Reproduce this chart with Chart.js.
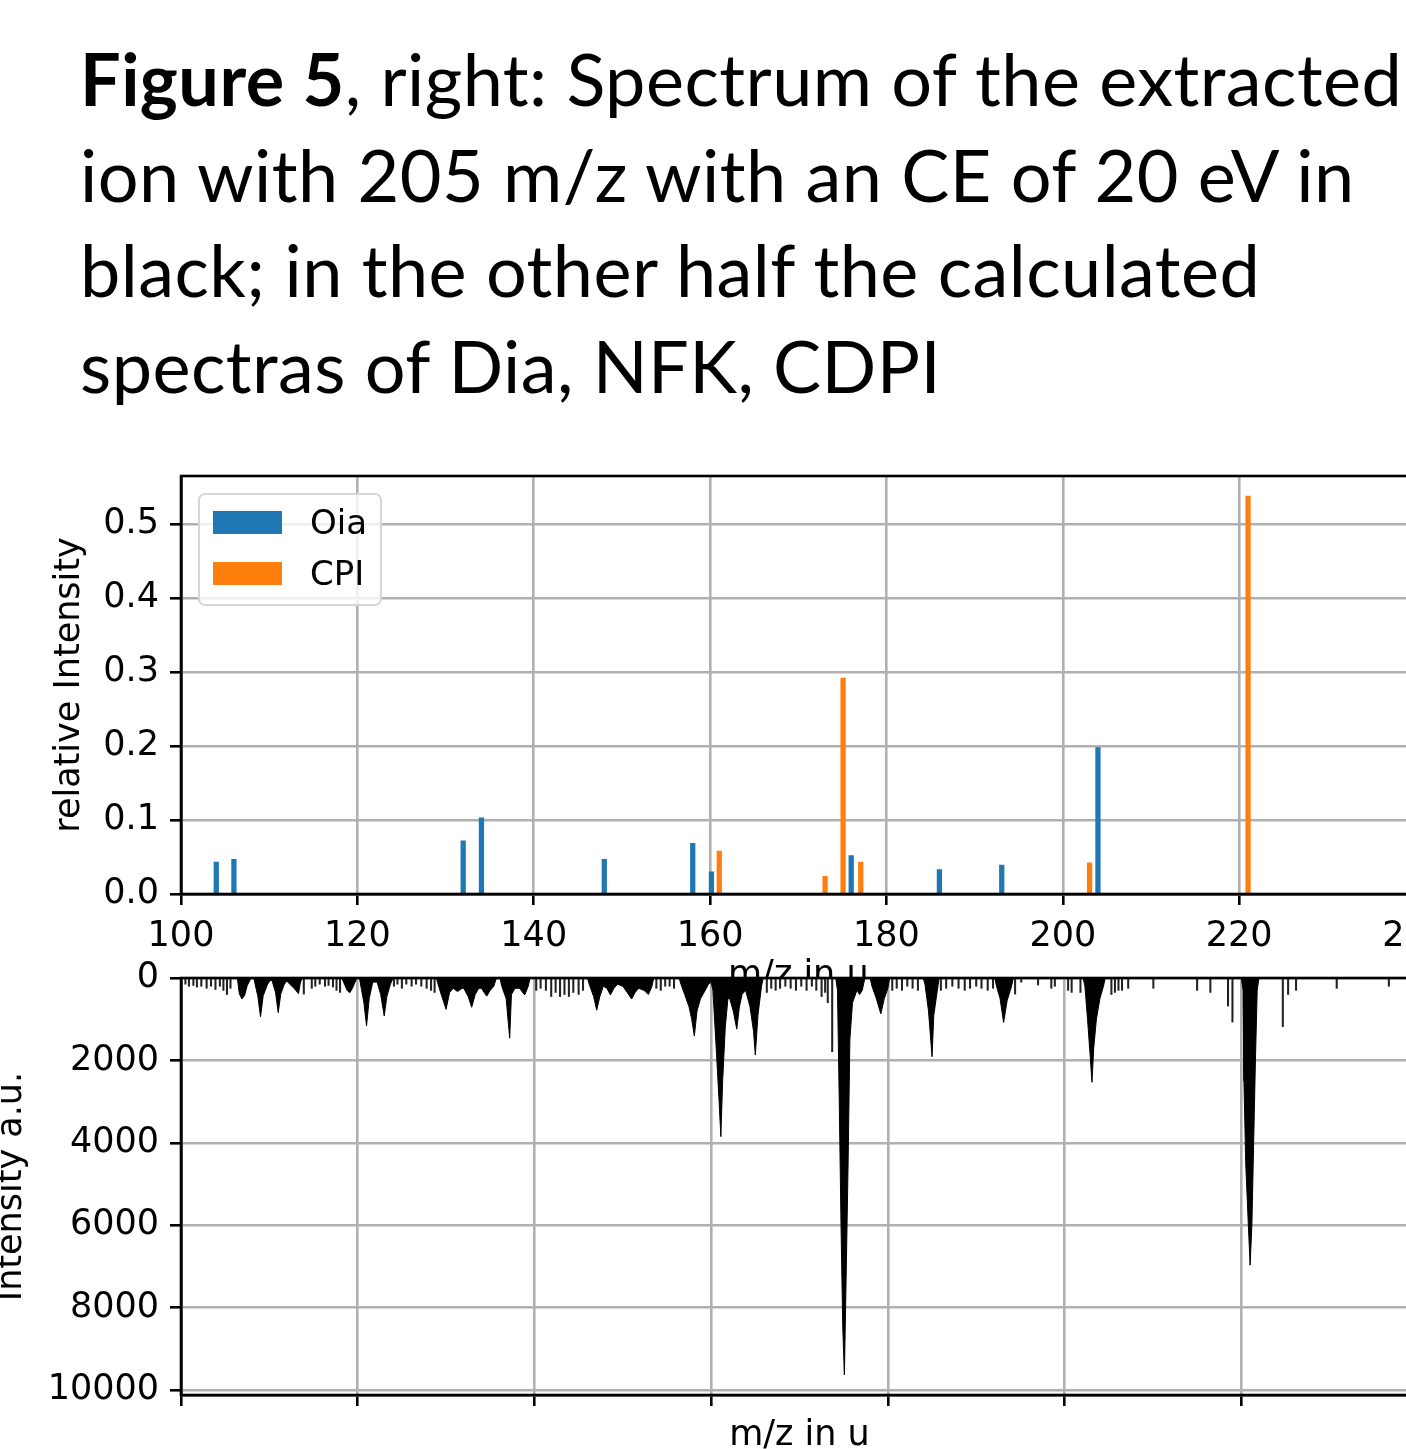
<!DOCTYPE html>
<html>
<head>
<meta charset="utf-8">
<script src="https://cdn.jsdelivr.net/npm/chart.js@4.4.1/dist/chart.umd.min.js"></script>
<style>
  html, body { margin: 0; padding: 0; width: 1406px; height: 1449px; overflow: hidden; background: #fff; }
  .caption { position: absolute; left: 80px; top: 31px; width: 1500px; font-family: Lato, "Open Sans", sans-serif;
             font-size: 72px; letter-spacing: 0.45px; line-height: 95.5px; color: #000; white-space: nowrap; }
  .caption b { font-weight: 700; }
  canvas { position: absolute; }
  #legend { position: absolute; left: 198px; top: 493px; width: 180px; height: 109px; border: 2px solid #d6d6d6;
            border-radius: 7px; background: rgba(255,255,255,0.8); font-family: "DejaVu Sans", sans-serif; font-size: 34px; z-index: 5; }
  #legend .item { position: absolute; left: 13px; height: 30px; }
  #legend .sw { position: absolute; left: 0; top: 4px; width: 69px; height: 23px; }
  #legend .lb { position: absolute; left: 97px; top: -5px; line-height: 40px; }
</style>
</head>
<body>
<div class="caption">
  <div><b>Figure 5</b>, right: Spectrum of the extracted</div>
  <div>ion with 205 m/z with an CE of 20 eV in</div>
  <div>black; in the other half the calculated</div>
  <div>spectras of Dia, NFK, CDPI</div>
</div>
<canvas id="top" width="1480" height="560" style="left:-20px; top:440px; width:1480px; height:560px;"></canvas>
<canvas id="bottom" width="1480" height="540" style="left:-20px; top:940px; width:1480px; height:540px;"></canvas>
<div id="legend"></div>
<script>
// calculated spectra (upper panel)
const oiaMz = [104, 106, 132, 134.07, 148, 158.03, 160.15, 176, 186, 193.07, 203.98];
const oiaIntensity = [0.043, 0.047, 0.072, 0.103, 0.047, 0.0685, 0.030, 0.052, 0.033, 0.039, 0.198];
const cpiMz = [161.04, 173.04, 175.08, 177.08, 203.03, 221.0];
const cpiIntensity = [0.058, 0.024, 0.292, 0.043, 0.042, 0.538];

// measured spectrum, 205 m/z, CE 20 eV (lower panel): peak profile
const profileMz = [
  100.0, 106.3, 106.4, 106.6, 106.9, 107.2, 107.5, 107.8, 108.0,
  108.2, 108.3, 108.7, 109.0, 109.3, 109.8, 110.1,
  110.3, 110.7, 111.0, 111.3, 111.7, 112.0,
  112.3, 112.8, 113.3, 113.5, 113.7,
  118.2, 118.5, 118.8, 119.1, 119.4, 119.7, 119.9,
  120.2, 120.4, 120.7, 121.0, 121.3, 121.7,
  122.2, 122.6, 123.0, 123.3, 123.7, 124.0,
  128.9, 129.3, 130.0, 130.4, 130.8, 131.3, 131.8, 132.0, 132.5, 132.9, 133.3, 133.7, 134.0, 134.6, 135.0, 135.4, 135.7,
  136.1, 136.3, 136.8, 137.2, 137.4, 137.8, 138.3, 138.9, 139.3, 139.5,
  146.0, 146.2, 146.7, 147.05, 147.4, 147.8, 148.2, 148.6, 149.0, 149.4, 150.0, 150.5, 151.0, 151.4, 151.8, 152.4, 152.9, 153.3, 153.5,
  156.4, 156.5, 157.0, 157.5, 157.8, 158.1, 158.4, 158.8, 159.2, 159.7, 160.0,
  160.2, 160.6, 160.9, 161.1, 161.3, 161.6, 161.9, 162.1, 162.5, 162.9, 163.2, 163.5, 163.9, 164.4, 164.8, 165.0, 165.3, 165.7, 165.9,
  174.1, 174.3, 174.5, 174.7, 174.9, 175.08, 175.3, 175.5, 175.7, 176.0, 176.5, 176.8, 177.1, 177.4,
  178.0, 178.2, 178.7, 179.2, 179.6, 180.0, 180.2,
  184.0, 184.2, 184.6, 185.0, 185.2, 185.6, 185.8,
  192.1, 192.3, 192.7, 193.1, 193.5, 194.0, 194.2,
  202.1, 202.3, 202.6, 202.9, 203.1, 203.3, 203.6, 204.0, 204.4, 204.6,
  220.0, 220.2, 220.3, 220.5, 220.8, 221.0, 221.2, 221.4, 221.6, 221.8, 222.0,
  240.0
];
const profileIntensity = [
  0, 0, 40, 380, 510, 420, 180, 60, 0,
  0, 60, 450, 940, 430, 150, 60,
  60, 350, 840, 380, 150, 70,
  150, 250, 380, 120, 0,
  0, 150, 300, 360, 250, 100, 0,
  0, 250, 600, 1160, 500, 100,
  100, 400, 920, 450, 150, 0,
  0, 300, 760, 350, 250, 330, 250, 250, 450, 710, 400, 250, 250, 440, 300, 200, 0,
  0, 200, 500, 1460, 400, 250, 250, 410, 200, 0,
  0, 150, 450, 780, 450, 200, 250, 410, 250, 150, 200, 350, 510, 350, 250, 300, 400, 200, 0,
  0, 100, 400, 700, 1000, 1410, 800, 500, 350, 150, 100,
  300, 1800, 3000, 3850, 2500, 1200, 500, 500, 800, 1240, 700, 400, 300, 700, 1300, 1870, 900, 200, 0,
  0, 300, 3000, 6000, 8500, 9635, 7000, 4500, 1500, 600, 300, 400, 300, 0,
  0, 200, 500, 870, 500, 250, 0,
  0, 150, 800, 1910, 900, 300, 0,
  0, 200, 500, 1080, 550, 200, 0,
  0, 200, 1000, 1900, 2530, 1700, 1000, 500, 200, 0,
  0, 300, 2500, 4500, 6000, 6970, 6000, 4000, 2000, 300, 0,
  0
];
// measured spectrum: isolated narrow lines
const spikeMz = [
  100.5, 100.9, 101.4, 101.8, 102.3, 102.9, 103.4, 103.9, 104.4, 104.8, 105.2, 105.6, 113.9,
  114.8, 115.2, 115.7, 116.3, 116.7, 117.2, 117.6, 118.0,
  124.1, 124.5, 125.0, 125.5, 126.1, 126.6, 127.2, 127.8, 128.3, 128.7,
  140.2, 140.7, 141.3, 141.9, 142.4, 142.9, 143.4, 143.9, 144.4, 145.0, 145.5,
  153.8, 154.3, 154.8, 155.3, 155.8,
  166.3, 166.8, 167.3, 167.8, 168.4, 169.0, 169.6, 170.2, 170.8, 171.4, 171.9, 172.5, 172.9, 173.2, 173.7,
  180.5, 181.0, 181.6, 182.2, 182.8, 183.4,
  186.0, 186.6, 187.3, 188.0, 188.7, 189.3, 190.0, 190.6, 191.3, 191.9,
  194.4, 195.1, 197.0, 198.5, 198.9, 200.4, 200.8, 201.8,
  205.3, 205.7, 206.1, 206.5, 207.2, 210.05, 215.0, 216.5, 218.5, 219.0,
  224.7, 225.3, 226.2, 230.8, 236.7
];
const spikeIntensity = [
  150, 200, 180, 220, 200, 250, 200, 280, 200, 300, 400, 250, 390,
  250, 200, 150, 200, 180, 220, 300, 350,
  200, 150, 250, 150, 200, 150, 200, 250, 300, 350,
  300, 250, 300, 450, 350, 450, 400, 450, 350, 400, 300,
  250, 300, 200, 200, 250,
  350, 250, 300, 250, 200, 250, 300, 200, 300, 200, 300, 450, 350, 600, 1790,
  300, 250, 300, 200, 250, 300,
  300, 250, 200, 250, 300, 250, 200, 250, 300, 250,
  390, 100, 170, 250, 200, 300, 350, 350,
  400, 350, 300, 300, 250, 250, 300, 350, 680, 1070,
  1180, 400, 300, 250, 200
];

const xTicks = [100, 120, 140, 160, 180, 200, 220, 240];
const upperYTicks = [0, 0.1, 0.2, 0.3, 0.4, 0.5];
const lowerYTicks = [0, 2000, 4000, 6000, 8000, 10000];

const tickFont = { family: "DejaVu Sans", size: 35 };
const gridStyle = { color: "#b0b0b0", lineWidth: 2.6, tickColor: "#000", tickLength: 11, tickWidth: 2.6, offset: false };
const borderStyle = { color: "#000", width: 2.6 };

const frame = {
  id: "frame",
  beforeDraw(chart, args, opts) {
    if (!opts.fill) return;
    const a = chart.chartArea, ctx = chart.ctx;
    ctx.save();
    ctx.fillStyle = "#fff";
    ctx.fillRect(a.left, a.top, a.right - a.left, a.bottom - a.top);
    ctx.restore();
  },
  afterDraw(chart) {
    const a = chart.chartArea, ctx = chart.ctx;
    ctx.save();
    ctx.strokeStyle = "#000";
    ctx.lineWidth = 2.6;
    ctx.strokeRect(a.left, a.top, a.right - a.left, a.bottom - a.top);
    ctx.restore();
  }
};

function pairs(xs, ys) { return xs.map((x, i) => ({ x: x, y: ys[i] })); }

const upper = new Chart(document.getElementById("top"), {
  type: "bar",
  data: {
    datasets: [
      { label: "Oia", data: pairs(oiaMz, oiaIntensity), backgroundColor: "#1f77b4" },
      { label: "CPI", data: pairs(cpiMz, cpiIntensity), backgroundColor: "#ff7f0e" }
    ]
  },
  options: {
    responsive: false,
    animation: false,
    layout: { padding: { top: 36, right: 42, bottom: 0, left: 0 } },
    datasets: { bar: { barThickness: 4.6, grouped: false } },
    plugins: { legend: { display: false }, tooltip: { enabled: false }, frame: { fill: false } },
    scales: {
      x: {
        type: "linear", min: 100, max: 240, offset: false, z: 1,
        afterBuildTicks: s => { s.ticks = xTicks.map(v => ({ value: v })); },
        afterFit: s => { s.height = 106; },
        ticks: { font: tickFont, color: "#000", padding: 11, maxRotation: 0, callback: v => String(v) },
        grid: gridStyle, border: borderStyle,
        title: { display: true, text: "m/z in u", font: tickFont, color: "#000", padding: { top: 0, bottom: 3 } }
      },
      y: {
        min: 0, max: 0.565, z: 1,
        afterBuildTicks: s => { s.ticks = upperYTicks.map(v => ({ value: v })); },
        afterFit: s => { s.width = 201; },
        ticks: { font: tickFont, color: "#000", padding: 11, callback: v => v.toFixed(1) },
        grid: gridStyle, border: borderStyle,
        title: { display: true, text: "relative Intensity", font: tickFont, color: "#000", padding: { top: 69, bottom: 0 } }
      }
    }
  },
  plugins: [frame]
});

new Chart(document.getElementById("bottom"), {
  type: "line",
  data: {
    datasets: [
      { type: "line", label: "measured", data: pairs(profileMz, profileIntensity), borderColor: "#000", borderWidth: 1,
        backgroundColor: "#000", fill: "origin", pointRadius: 0, tension: 0 },
      { type: "bar", label: "lines", data: pairs(spikeMz, spikeIntensity), backgroundColor: "#222",
        barThickness: 1.4, grouped: false }
    ]
  },
  options: {
    responsive: false,
    animation: false,
    layout: { padding: { top: 38, right: 42, bottom: 0, left: 0 } },
    plugins: { legend: { display: false }, tooltip: { enabled: false }, frame: { fill: true } },
    scales: {
      x: {
        type: "linear", min: 100, max: 240, offset: false, z: 1,
        afterBuildTicks: s => { s.ticks = xTicks.map(v => ({ value: v })); },
        afterFit: s => { s.height = 85; },
        ticks: { font: tickFont, color: "#000", callback: () => "" },
        grid: gridStyle, border: borderStyle,
        title: { display: true, text: "m/z in u", font: tickFont, color: "#000", padding: { top: 0, bottom: 23 } }
      },
      y: {
        reverse: true, min: 0, max: 10120, z: 1,
        afterBuildTicks: s => { s.ticks = lowerYTicks.map(v => ({ value: v })); },
        afterFit: s => { s.width = 201; },
        ticks: { font: tickFont, color: "#000", padding: 11, callback: v => String(v) },
        grid: gridStyle, border: borderStyle,
        title: { display: true, text: "Intensity a.u.", font: tickFont, color: "#000", padding: { top: 11, bottom: 0 } }
      }
    }
  },
  plugins: [frame]
});

// legend box drawn from the upper chart's datasets
const legend = document.getElementById("legend");
upper.data.datasets.forEach((ds, i) => {
  const item = document.createElement("div");
  item.className = "item";
  item.style.top = (12 + i * 51) + "px";
  item.innerHTML = '<span class="sw" style="background:' + ds.backgroundColor + '"></span><span class="lb">' + ds.label + '</span>';
  legend.appendChild(item);
});
</script>
</body>
</html>
